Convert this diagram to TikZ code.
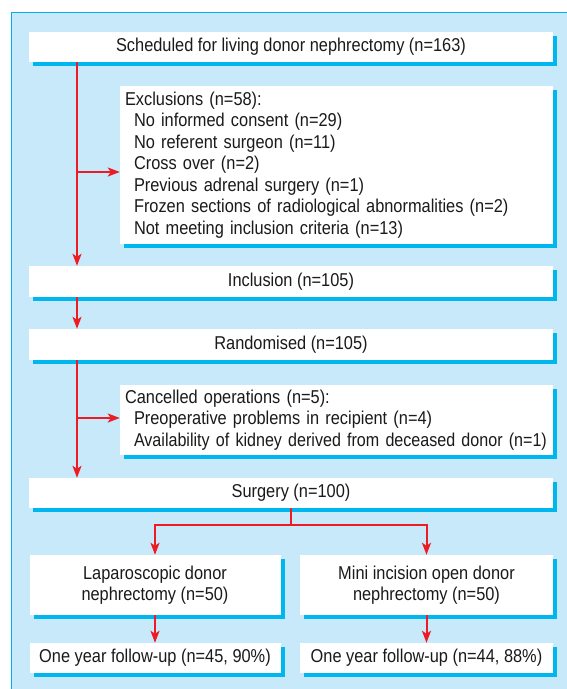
\documentclass[tikz,border=0pt]{standalone}
\usepackage{fontspec}
\setmainfont{Liberation Sans}[FakeStretch=0.88]
\newfontfamily\tighterfont{Liberation Sans}[FakeStretch=0.865]
\usetikzlibrary{arrows.meta,shadows}
\definecolor{framefill}{HTML}{C8E9F9}
\definecolor{framecyan}{HTML}{00AEEF}
\definecolor{shadowcyan}{HTML}{00B6EE}
\definecolor{arrred}{HTML}{ED1C24}
\definecolor{txt}{HTML}{1A1A1A}
\tikzset{
  box/.style={fill=white, draw=none, inner sep=0pt, text=txt, font=\fontsize{18.6}{21.5}\selectfont,
    drop shadow={shadow xshift=4pt, shadow yshift=-4pt, fill=shadowcyan, opacity=1}},
  arr/.style={draw=arrred, line width=2pt, -{Stealth[length=12pt,width=9pt,inset=3pt]}},
  ln/.style={draw=arrred, line width=2pt},
}
\begin{document}
\begin{tikzpicture}[x=1pt,y=-1pt]
\useasboundingbox (0,0) rectangle (566,689);
\fill[framefill] (11,12) rectangle (580,700);
\draw[framecyan, line width=1.5pt] (11.5,700) -- (11.5,12.5) -- (580,12.5);
\node[box, minimum width=524pt, minimum height=30pt] (sched) at (291,47) {Scheduled for living donor nephrectomy (n=163)};
\node[box, minimum width=433pt, minimum height=158pt, text width=423pt, align=left] (excl) at (336.5,165) {Exclusions (n=58):\\
\hspace*{9pt}No informed consent (n=29)\\
\hspace*{9pt}No referent surgeon (n=11)\\
\hspace*{9pt}Cross over (n=2)\\
\hspace*{9pt}Previous adrenal surgery (n=1)\\
\hspace*{9pt}Frozen sections of radiological abnormalities (n=2)\\
\hspace*{9pt}Not meeting inclusion criteria (n=13)};
\node[box, minimum width=524pt, minimum height=31pt] (incl) at (291,281.5) {Inclusion (n=105)};
\node[box, minimum width=524pt, minimum height=31pt] (rand) at (291,344.5) {Randomised (n=105)};
\node[box, minimum width=433pt, minimum height=70pt, text width=423pt, align=left] (canc) at (336.5,420) {Cancelled operations (n=5):\\
\hspace*{9pt}Preoperative problems in recipient (n=4)\\
\hspace*{9pt}\mbox{\tighterfont Availability of kidney derived from deceased donor (n=1)}};
\node[box, minimum width=524pt, minimum height=30pt] (surg) at (291,493) {Surgery (n=100)};
\node[box, minimum width=251pt, minimum height=60pt, align=center] (lap) at (155,585) {Laparoscopic donor\\nephrectomy (n=50)};
\node[box, minimum width=253pt, minimum height=60pt, align=center] (mini) at (426.5,585) {Mini incision open donor\\nephrectomy (n=50)};
\node[box, minimum width=251pt, minimum height=30pt] (fl) at (155,658) {One year follow-up (n=45, 90\%)};
\node[box, minimum width=253pt, minimum height=30pt] (fr) at (426.5,658) {One year follow-up (n=44, 88\%)};
\coordinate (vx) at (77,0);
\coordinate (b1) at (77,172);
\coordinate (b2) at (77,418);
\coordinate (sj) at (291,525);
\draw[arr] (sched.south -| vx) -- (incl.north -| vx);
\draw[arr] (b1) -- (excl.west |- b1);
\draw[arr] (incl.south -| vx) -- (rand.north -| vx);
\draw[arr] (rand.south -| vx) -- (surg.north -| vx);
\draw[arr] (b2) -- (canc.west |- b2);
\draw[ln] (surg.south -| sj) -- (sj);
\draw[arr] (sj) -| (lap.north);
\draw[arr] (sj) -| (mini.north);
\draw[arr] (lap.south) -- (fl.north);
\draw[arr] (mini.south) -- (fr.north);
\end{tikzpicture}
\end{document}
